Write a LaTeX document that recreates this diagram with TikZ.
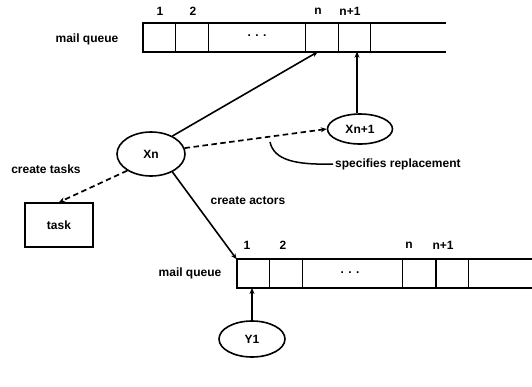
\documentclass[tikz,border=0pt]{standalone}
\usepackage{fontspec}
\setmainfont{Liberation Sans}
\usetikzlibrary{shapes.geometric,arrows.meta}
\begin{document}
\begin{tikzpicture}[x=1pt,y=-1pt,
  lbl/.style={font=\bfseries\fontsize{12}{14}\selectfont, inner sep=0pt},
  qline/.style={line width=2pt},
  actor/.style={ellipse, draw, line width=1.6pt, minimum width=#1, font=\bfseries\fontsize{12}{14}\selectfont, inner sep=0pt},
  conn/.style={line width=1.6pt, -{Stealth[length=6pt,width=5pt]}},
  dconn/.style={line width=1.7pt, dash pattern=on 5.5pt off 3.5pt, -{Stealth[length=6pt,width=5pt]}}]
\useasboundingbox (0,0) rectangle (532,386);
% top queue
\draw[qline] (446,22.7) -- (142.7,22.7) -- (142.7,51.7) -- (446,51.7);
\foreach \x in {175.7,208.3,305.7,338.3,370.7} \draw[line width=1.5pt] (\x,22.7) -- (\x,51.7);
\node[lbl] (tq) at (87,39) {mail queue};
\node[lbl] (t1) at (160,11) {1};
\node[lbl] (t2) at (193,11) {2};
\node[lbl] (tn) at (318,11) {n};
\node[lbl] (tn1) at (350,11) {n+1};
\node[lbl] (tdots) at (257,36) {. . .};
\coordinate (tcn) at (318,51.7);
\coordinate (tcn1) at (357,51.7);
% bottom queue
\draw[qline] (532,259.3) -- (236.7,259.3) -- (236.7,288) -- (532,288);
\foreach \x in {269.3,302.3,402.7,436,468.3} \draw[line width=1.5pt] (\x,259.3) -- (\x,288);
\node[lbl] (bq) at (190,273) {mail queue};
\node[lbl] (b1) at (247,245) {1};
\node[lbl] (b2) at (283,245) {2};
\node[lbl] (bn) at (409,245) {n};
\node[lbl] (bn1) at (443,245) {n+1};
\node[lbl] (bdots) at (350,273) {. . .};
\coordinate (bcorner) at (236.7,259.3);
\coordinate (bc1) at (252,288);
% actors
\node[actor=68pt, minimum height=44pt] (xn) at (151,154) {Xn};
\node[actor=65pt, minimum height=30pt] (xn1) at (360,129) {Xn+1};
\node[actor=66pt, minimum height=36pt] (y1) at (252,339) {Y1};
% task
\node[draw, line width=1.6pt, minimum width=68pt, minimum height=44pt, lbl] (task) at (59,225) {task};
% labels
\node[lbl] (ct) at (46,169) {create tasks};
\node[lbl] (ca) at (248,201) {create actors};
\node[lbl, anchor=west] (sr) at (335,164) {specifies replacement};
% connectors
\draw[conn] (xn.40) -- (tcn);
\draw[conn] (xn1.north -| tcn1) -- (tcn1);
\draw[conn] (xn.-40) -- (bcorner);
\draw[conn] (y1.north) -- (bc1);
\draw[dconn] (xn.10) -- (xn1.west);
\draw[dconn] (xn.215) -- (task.north);
\coordinate (srs) at (270,142);
\draw[line width=1.5pt] (srs) .. controls (274,160) and (295,165) .. ([xshift=-2pt]sr.west);
\end{tikzpicture}
\end{document}
